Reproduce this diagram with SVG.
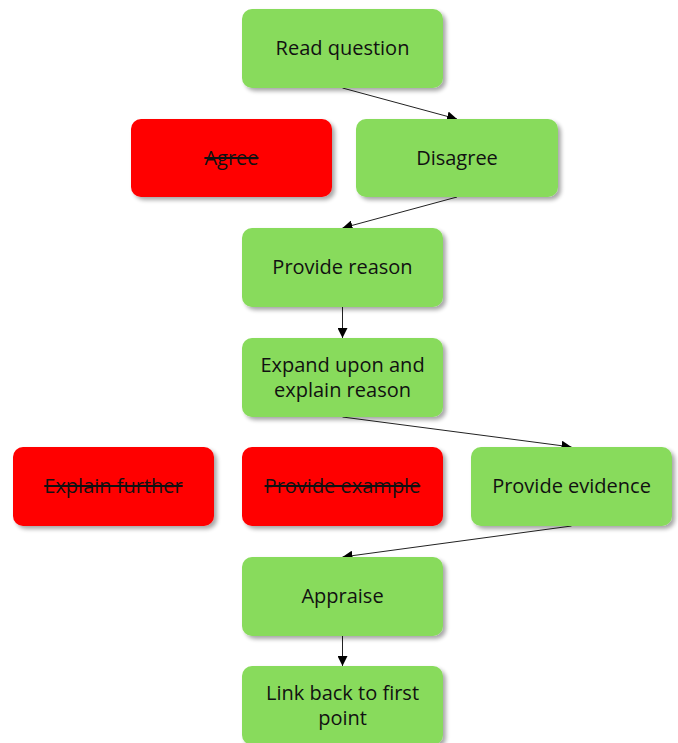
<svg xmlns="http://www.w3.org/2000/svg" width="678" height="743" viewBox="0 0 678 743">
<defs>
<filter id="sh" x="-10%" y="-10%" width="130%" height="140%">
<feGaussianBlur in="SourceAlpha" stdDeviation="2"/>
<feOffset dx="3" dy="3" result="b"/>
<feComponentTransfer><feFuncA type="linear" slope="0.35"/></feComponentTransfer>
<feMerge><feMergeNode/><feMergeNode in="SourceGraphic"/></feMerge>
</filter>
<marker id="arr" viewBox="0 0 10 10" refX="10" refY="5" markerWidth="10" markerHeight="10" markerUnits="userSpaceOnUse" orient="auto">
<path d="M0,0 L10,5 L0,10 z" fill="#000"/>
</marker>
<style>
.g{fill:#88DB5C;filter:url(#sh)}
.r{fill:#FF0000;filter:url(#sh)}
text{font-family:"Open Sans","Noto Sans",sans-serif;font-size:20px;fill:#111;text-anchor:middle;dominant-baseline:central}
.x{text-decoration:line-through}
.c{stroke:#222;stroke-width:1;fill:none;marker-end:url(#arr)}
</style>
</defs>
<g id="connectors">
<line class="c" x1="342.5" y1="88" x2="457" y2="119"/>
<line class="c" x1="457" y1="197" x2="342.5" y2="228"/>
<line class="c" x1="342.5" y1="307" x2="342.5" y2="338"/>
<line class="c" x1="342.5" y1="417" x2="571.5" y2="447"/>
<line class="c" x1="571.5" y1="526" x2="342.5" y2="557"/>
<line class="c" x1="342.5" y1="636" x2="342.5" y2="666"/>
</g>
<g id="read-question"><rect class="g" x="242" y="9" width="201" height="79" rx="10"/><text x="342.5" y="47.5">Read question</text></g>
<g id="agree"><rect class="r" x="131" y="119" width="201" height="78" rx="10"/><text class="x" x="231.5" y="157.5">Agree</text></g>
<g id="disagree"><rect class="g" x="356" y="119" width="202" height="78" rx="10"/><text x="457" y="157.5">Disagree</text></g>
<g id="provide-reason"><rect class="g" x="242" y="228" width="201" height="79" rx="10"/><text x="342.5" y="266.5">Provide reason</text></g>
<g id="expand"><rect class="g" x="242" y="338" width="201" height="79" rx="10"/><text x="342.5" y="364.5">Expand upon and</text><text x="342.5" y="389">explain reason</text></g>
<g id="explain-further"><rect class="r" x="13" y="447" width="201" height="79" rx="10"/><text class="x" x="113.5" y="485.5">Explain further</text></g>
<g id="provide-example"><rect class="r" x="242" y="447" width="201" height="79" rx="10"/><text class="x" x="342.5" y="485.5">Provide example</text></g>
<g id="provide-evidence"><rect class="g" x="471" y="447" width="201" height="79" rx="10"/><text x="571.5" y="485.5">Provide evidence</text></g>
<g id="appraise"><rect class="g" x="242" y="557" width="201" height="79" rx="10"/><text x="342.5" y="595.5">Appraise</text></g>
<g id="link-back"><rect class="g" x="242" y="666" width="201" height="79" rx="10"/><text x="342.5" y="692.5">Link back to first</text><text x="342.5" y="717">point</text></g>
</svg>
